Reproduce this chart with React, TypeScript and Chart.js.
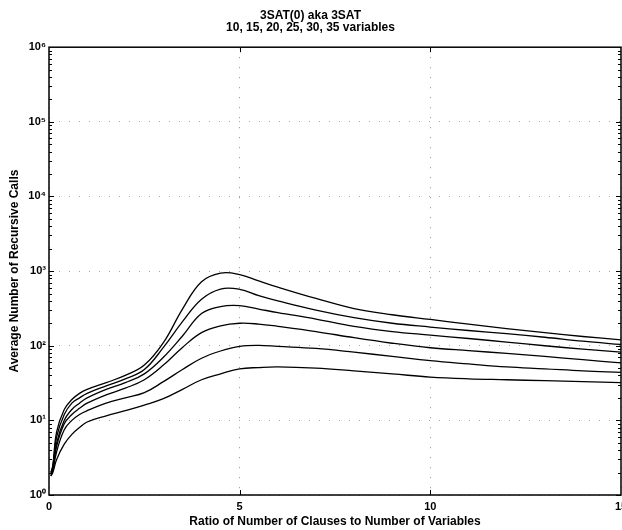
import React, { useEffect, useRef } from "react";
import { Chart, registerables } from "chart.js";

Chart.register(...registerables);

// ---- data ----
const xValues = [0.05, 0.1, 0.2, 0.4, 0.6, 0.8, 1.0, 1.5, 2.0, 2.5, 3.0, 3.5, 4.0, 4.5, 5.0, 5.5, 6, 7, 8, 9, 10, 11, 12, 13, 14, 15];
const vars35 = [2.0, 2.5, 7, 14, 19, 23, 26, 32, 40, 55, 110, 310, 720, 940, 900, 740, 610, 430, 315, 260, 225, 195, 170, 150, 133, 120];
const vars30 = [2.0, 2.4, 6, 12, 17, 20, 23, 29, 36, 48, 95, 210, 420, 575, 570, 470, 400, 300, 238, 200, 178, 160, 145, 130, 115, 104];
const vars25 = [1.9, 2.3, 5, 10, 14, 17, 20, 26, 32, 42, 70, 135, 270, 335, 345, 310, 278, 228, 182, 155, 139, 125, 112, 100, 90, 82];
const vars20 = [1.9, 2.2, 4.5, 9, 12, 14.5, 17, 22, 27, 35, 55, 95, 150, 185, 200, 195, 182, 155, 128, 108, 94, 86, 79, 72, 65, 59];
const vars15 = [1.8, 2.1, 3.8, 7.5, 10, 12, 13.5, 17, 20, 23.5, 33, 48, 68, 85, 98, 101, 98, 92, 82, 72, 63, 57, 52, 49, 46, 44];
const vars10 = [1.8, 2.0, 3.0, 4.8, 6.5, 8, 9.5, 11.5, 13.5, 16, 19.5, 26, 35, 42, 49, 51, 52, 50, 46, 42, 38, 36, 35, 34, 33, 32];
const seriesLabels = ["35 variables", "30 variables", "25 variables", "20 variables", "15 variables", "10 variables"];

const yTickValues = [1, 10, 100, 1000, 10000, 100000, 1000000];
const yTickLabels = ["10\u2070", "10\u00b9", "10\u00b2", "10\u00b3", "10\u2074", "10\u2075", "10\u2076"];
const xTickValues = [0, 5, 10, 15];
const xTickLabels = ["0", "5", "10", "15"];
const titleLines = ["3SAT(0) aka 3SAT", "10, 15, 20, 25, 30, 35 variables"];
const xAxisTitle = "Ratio of Number of Clauses to Number of Variables";
const yAxisTitle = "Average Number of Recursive Calls";

const FONT = "'Liberation Sans', Arial, Helvetica, sans-serif";

const boxPlugin = {
  id: "matlabBox",
  afterDraw(chart: any) {
    const { ctx, chartArea } = chart;
    const { left, right, top, bottom } = chartArea;
    const xs = chart.scales.x;
    const ys = chart.scales.y;
    ctx.save();
    ctx.strokeStyle = "#000";
    ctx.lineWidth = 1.5;
    ctx.strokeRect(left, top, right - left, bottom - top);
    ctx.lineWidth = 1;
    ctx.beginPath();
    for (let e = 0; e < 6; e++) {
      for (let m = 1; m <= 9; m++) {
        const v = m * Math.pow(10, e);
        const py = Math.round(ys.getPixelForValue(v)) + 0.5;
        const len = m === 1 ? 5 : 3;
        ctx.moveTo(left, py);
        ctx.lineTo(left + len, py);
        ctx.moveTo(right, py);
        ctx.lineTo(right - len, py);
      }
    }
    [5, 10].forEach((v) => {
      const px = Math.round(xs.getPixelForValue(v)) + 0.5;
      ctx.moveTo(px, bottom);
      ctx.lineTo(px, bottom - 5);
      ctx.moveTo(px, top);
      ctx.lineTo(px, top + 5);
    });
    ctx.stroke();
    ctx.restore();
  },
};

export default function App() {
  const ref = useRef<HTMLCanvasElement | null>(null);

  useEffect(() => {
    if (!ref.current) return;
    const seriesData = [vars35, vars30, vars25, vars20, vars15, vars10];
    const chart = new Chart(ref.current, {
      type: "line",
      data: {
        datasets: seriesData.map((vals, i) => ({
          label: seriesLabels[i],
          data: xValues.map((x, j) => ({ x, y: vals[j] })),
          borderColor: "#000",
          borderWidth: 1.3,
          pointRadius: 0,
          fill: false,
          tension: 0.4,
        })),
      },
      options: {
        animation: false,
        responsive: false,
        devicePixelRatio: 1,
        layout: { padding: { left: 0, right: 19, top: 0, bottom: 0 } },
        plugins: {
          legend: { display: false },
          tooltip: { enabled: false },
          title: {
            display: true,
            text: titleLines,
            color: "#000",
            font: { family: FONT, size: 12, weight: "bold", lineHeight: 1.05 },
            padding: { top: 9, bottom: 13 },
          },
        },
        scales: {
          x: {
            type: "linear",
            min: 0,
            max: 15,
            afterBuildTicks: (axis: any) => {
              axis.ticks = xTickValues.map((v) => ({ value: v }));
            },
            afterFit: (axis: any) => {
              axis.height = 35;
            },
            ticks: {
              color: "#000",
              font: { family: FONT, size: 11, weight: "bold" },
              padding: 5,
              maxRotation: 0,
              autoSkip: false,
              callback: (_v: any, i: number) => xTickLabels[i],
            },
            grid: { color: "rgba(0,0,0,0.45)", lineWidth: 1, drawTicks: false },
            border: { display: false, dash: [1, 9] },
            title: {
              display: true,
              text: xAxisTitle,
              color: "#000",
              font: { family: FONT, size: 12, weight: "bold", lineHeight: 1.2 },
              padding: { top: 0, bottom: 1 },
            },
          },
          y: {
            type: "logarithmic",
            min: 1,
            max: 1000000,
            afterBuildTicks: (axis: any) => {
              axis.ticks = yTickValues.map((v) => ({ value: v }));
            },
            afterFit: (axis: any) => {
              axis.width = 49;
            },
            ticks: {
              color: "#000",
              font: { family: FONT, size: 11, weight: "bold" },
              padding: 3,
              autoSkip: false,
              callback: (_v: any, i: number) => yTickLabels[i],
            },
            grid: { color: "rgba(0,0,0,0.35)", lineWidth: 1, drawTicks: false },
            border: { display: false, dash: [1, 9] },
            title: {
              display: true,
              text: yAxisTitle,
              color: "#000",
              font: { family: FONT, size: 12, weight: "bold", lineHeight: 1.2 },
              padding: { top: 7, bottom: 0 },
            },
          },
        },
      },
      plugins: [boxPlugin],
    });
    return () => chart.destroy();
  }, []);

  return (
    <div
      style={{
        position: "absolute",
        left: 0,
        top: 0,
        width: 622,
        height: 530,
        overflow: "hidden",
        background: "#fff",
      }}
    >
      <canvas ref={ref} width={640} height={530} style={{ display: "block" }} />
    </div>
  );
}
